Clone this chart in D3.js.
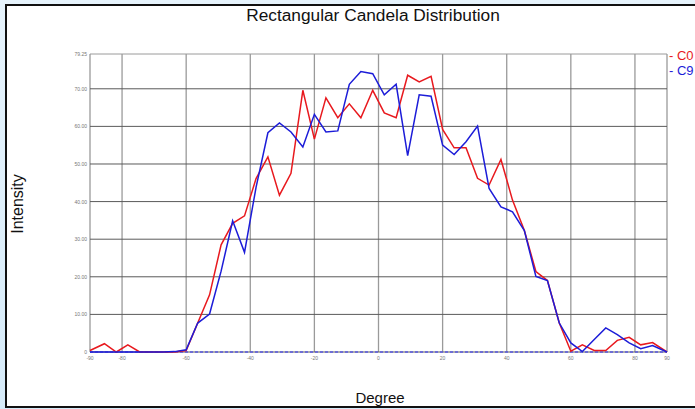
<!DOCTYPE html>
<html>
<head>
<meta charset="utf-8">
<script src="https://cdn.jsdelivr.net/npm/d3@7"></script>
<style>
  body { margin: 0; background: linear-gradient(180deg, #e6f3fc 0%, #d6ebf9 100%); }
  svg { display: block; }
</style>
</head>
<body>
<svg id="chart" width="695" height="409"></svg>
<script>
// angles (degrees) of each reading
var degrees = [-90, -85.5, -81.8, -78.2, -74.5, -70.9, -67.3, -63.6, -60, -56.4,
  -52.7, -49.1, -45.5, -41.8, -38.2, -34.5, -30.9, -27.3, -23.6, -20,
  -16.4, -12.7, -9.1, -5.5, -1.8, 1.8, 5.5, 9.1, 12.7, 16.4,
  20, 23.6, 27.3, 30.9, 34.5, 38.2, 41.8, 45.5, 49.1, 52.7,
  56.4, 60, 63.6, 67.3, 70.9, 74.5, 78.2, 81.8, 85.5, 90];

// C0 plane
var c0 = [0.4, 2.2, 0, 1.9, 0, 0, 0, 0, 0.4, 7.7,
  15.2, 28.5, 34.2, 36.2, 46.1, 51.9, 41.7, 47.5, 69.6, 56.6,
  67.6, 62.3, 66.0, 62.3, 69.6, 63.6, 62.3, 73.6, 71.8, 73.3,
  59.2, 54.3, 54.3, 46.2, 44.4, 51.2, 40.4, 32.3, 21.4, 19.0,
  7.7, 0.2, 1.9, 0.4, 0.4, 3.1, 3.9, 1.9, 2.5, 0];

// C90 plane
var c9 = [0, 0, 0, 0, 0, 0, 0, 0.1, 0.6, 7.7,
  10.1, 21.5, 34.9, 26.5, 43.8, 58.3, 60.9, 58.5, 54.5, 63.2,
  58.5, 58.8, 71.2, 74.6, 74.0, 68.4, 71.2, 52.2, 68.4, 68.0,
  55.0, 52.5, 55.9, 60.1, 43.5, 38.6, 37.3, 32.3, 20.1, 19.0,
  7.7, 2.4, 0.1, 3.3, 6.4, 4.6, 2.4, 0.9, 1.7, 0];

var xTicks = [-90, -80, -60, -40, -20, 0, 20, 40, 60, 80, 90];
var yTicks = [0, 10, 20, 30, 40, 50, 60, 70, 79.25];
var yMax = 79.25;

var svg = d3.select("#chart");

// white chart panel with black frame (open on the right)
svg.append("rect")
  .attr("x", 6).attr("y", 5)
  .attr("width", 700).attr("height", 402)
  .attr("fill", "#fff")
  .attr("stroke", "#111")
  .attr("stroke-width", 2);

var x = d3.scaleLinear().domain([-90, 90]).range([90, 667]);
var y = d3.scaleLinear().domain([0, yMax]).range([352, 54]);

var g = svg.append("g");

// vertical grid
g.selectAll(".vg")
  .data(xTicks)
  .enter().append("line")
  .attr("x1", d => x(d)).attr("x2", d => x(d))
  .attr("y1", y(yMax)).attr("y2", y(0))
  .attr("stroke", "#9a9a9a")
  .attr("stroke-width", 1.3);

// horizontal grid
g.selectAll(".hg")
  .data(yTicks)
  .enter().append("line")
  .attr("x1", x(-90)).attr("x2", x(90))
  .attr("y1", d => y(d)).attr("y2", d => y(d))
  .attr("stroke", d => d == yMax ? "#9a9a9a" : "#5a5a5a")
  .attr("stroke-width", 1);

// tick labels
g.selectAll(".yl")
  .data(yTicks)
  .enter().append("text")
  .attr("x", 87)
  .attr("y", d => y(d) + 2)
  .attr("text-anchor", "end")
  .attr("font-family", "Arial, Liberation Sans, sans-serif")
  .attr("font-size", 5)
  .attr("fill", "#777")
  .text(d => d == 0 ? "0" : d.toFixed(2));

g.selectAll(".xl")
  .data(xTicks)
  .enter().append("text")
  .attr("x", d => x(d))
  .attr("y", 360)
  .attr("text-anchor", "middle")
  .attr("font-family", "Arial, Liberation Sans, sans-serif")
  .attr("font-size", 5)
  .attr("fill", "#777")
  .text(d => d);

// dashed zero line
g.append("line")
  .attr("x1", x(-90)).attr("x2", x(90))
  .attr("y1", y(0)).attr("y2", y(0))
  .attr("stroke", "#5a5ae0")
  .attr("stroke-width", 1.5)
  .attr("stroke-dasharray", "3,2");

var line = d3.line()
  .x((d, i) => x(degrees[i]))
  .y(d => y(d));

g.append("path")
  .datum(c0)
  .attr("d", line)
  .attr("fill", "none")
  .attr("stroke", "#e8191e")
  .attr("stroke-width", 1.5);

g.append("path")
  .datum(c9)
  .attr("d", line)
  .attr("fill", "none")
  .attr("stroke", "#1c1cd8")
  .attr("stroke-width", 1.5);

// legend
var legend = [["- C0", "#e8191e", 60], ["- C9", "#1c1cd8", 75]];
svg.selectAll(".lg")
  .data(legend)
  .enter().append("text")
  .attr("x", 669)
  .attr("y", d => d[2])
  .attr("font-family", "Arial, Liberation Sans, sans-serif")
  .attr("font-size", 13)
  .attr("fill", d => d[1])
  .text(d => d[0]);

// titles
svg.append("text")
  .attr("x", 373).attr("y", 21)
  .attr("text-anchor", "middle")
  .attr("font-family", "Arial, Liberation Sans, sans-serif")
  .attr("font-size", 17.3)
  .attr("fill", "#111")
  .text("Rectangular Candela Distribution");

svg.append("text")
  .attr("transform", "translate(23,204) rotate(-90)")
  .attr("text-anchor", "middle")
  .attr("font-family", "Arial, Liberation Sans, sans-serif")
  .attr("font-size", 16)
  .attr("fill", "#111")
  .text("Intensity");

svg.append("text")
  .attr("x", 380).attr("y", 403)
  .attr("text-anchor", "middle")
  .attr("font-family", "Arial, Liberation Sans, sans-serif")
  .attr("font-size", 15)
  .attr("fill", "#111")
  .text("Degree");
</script>
</body>
</html>
